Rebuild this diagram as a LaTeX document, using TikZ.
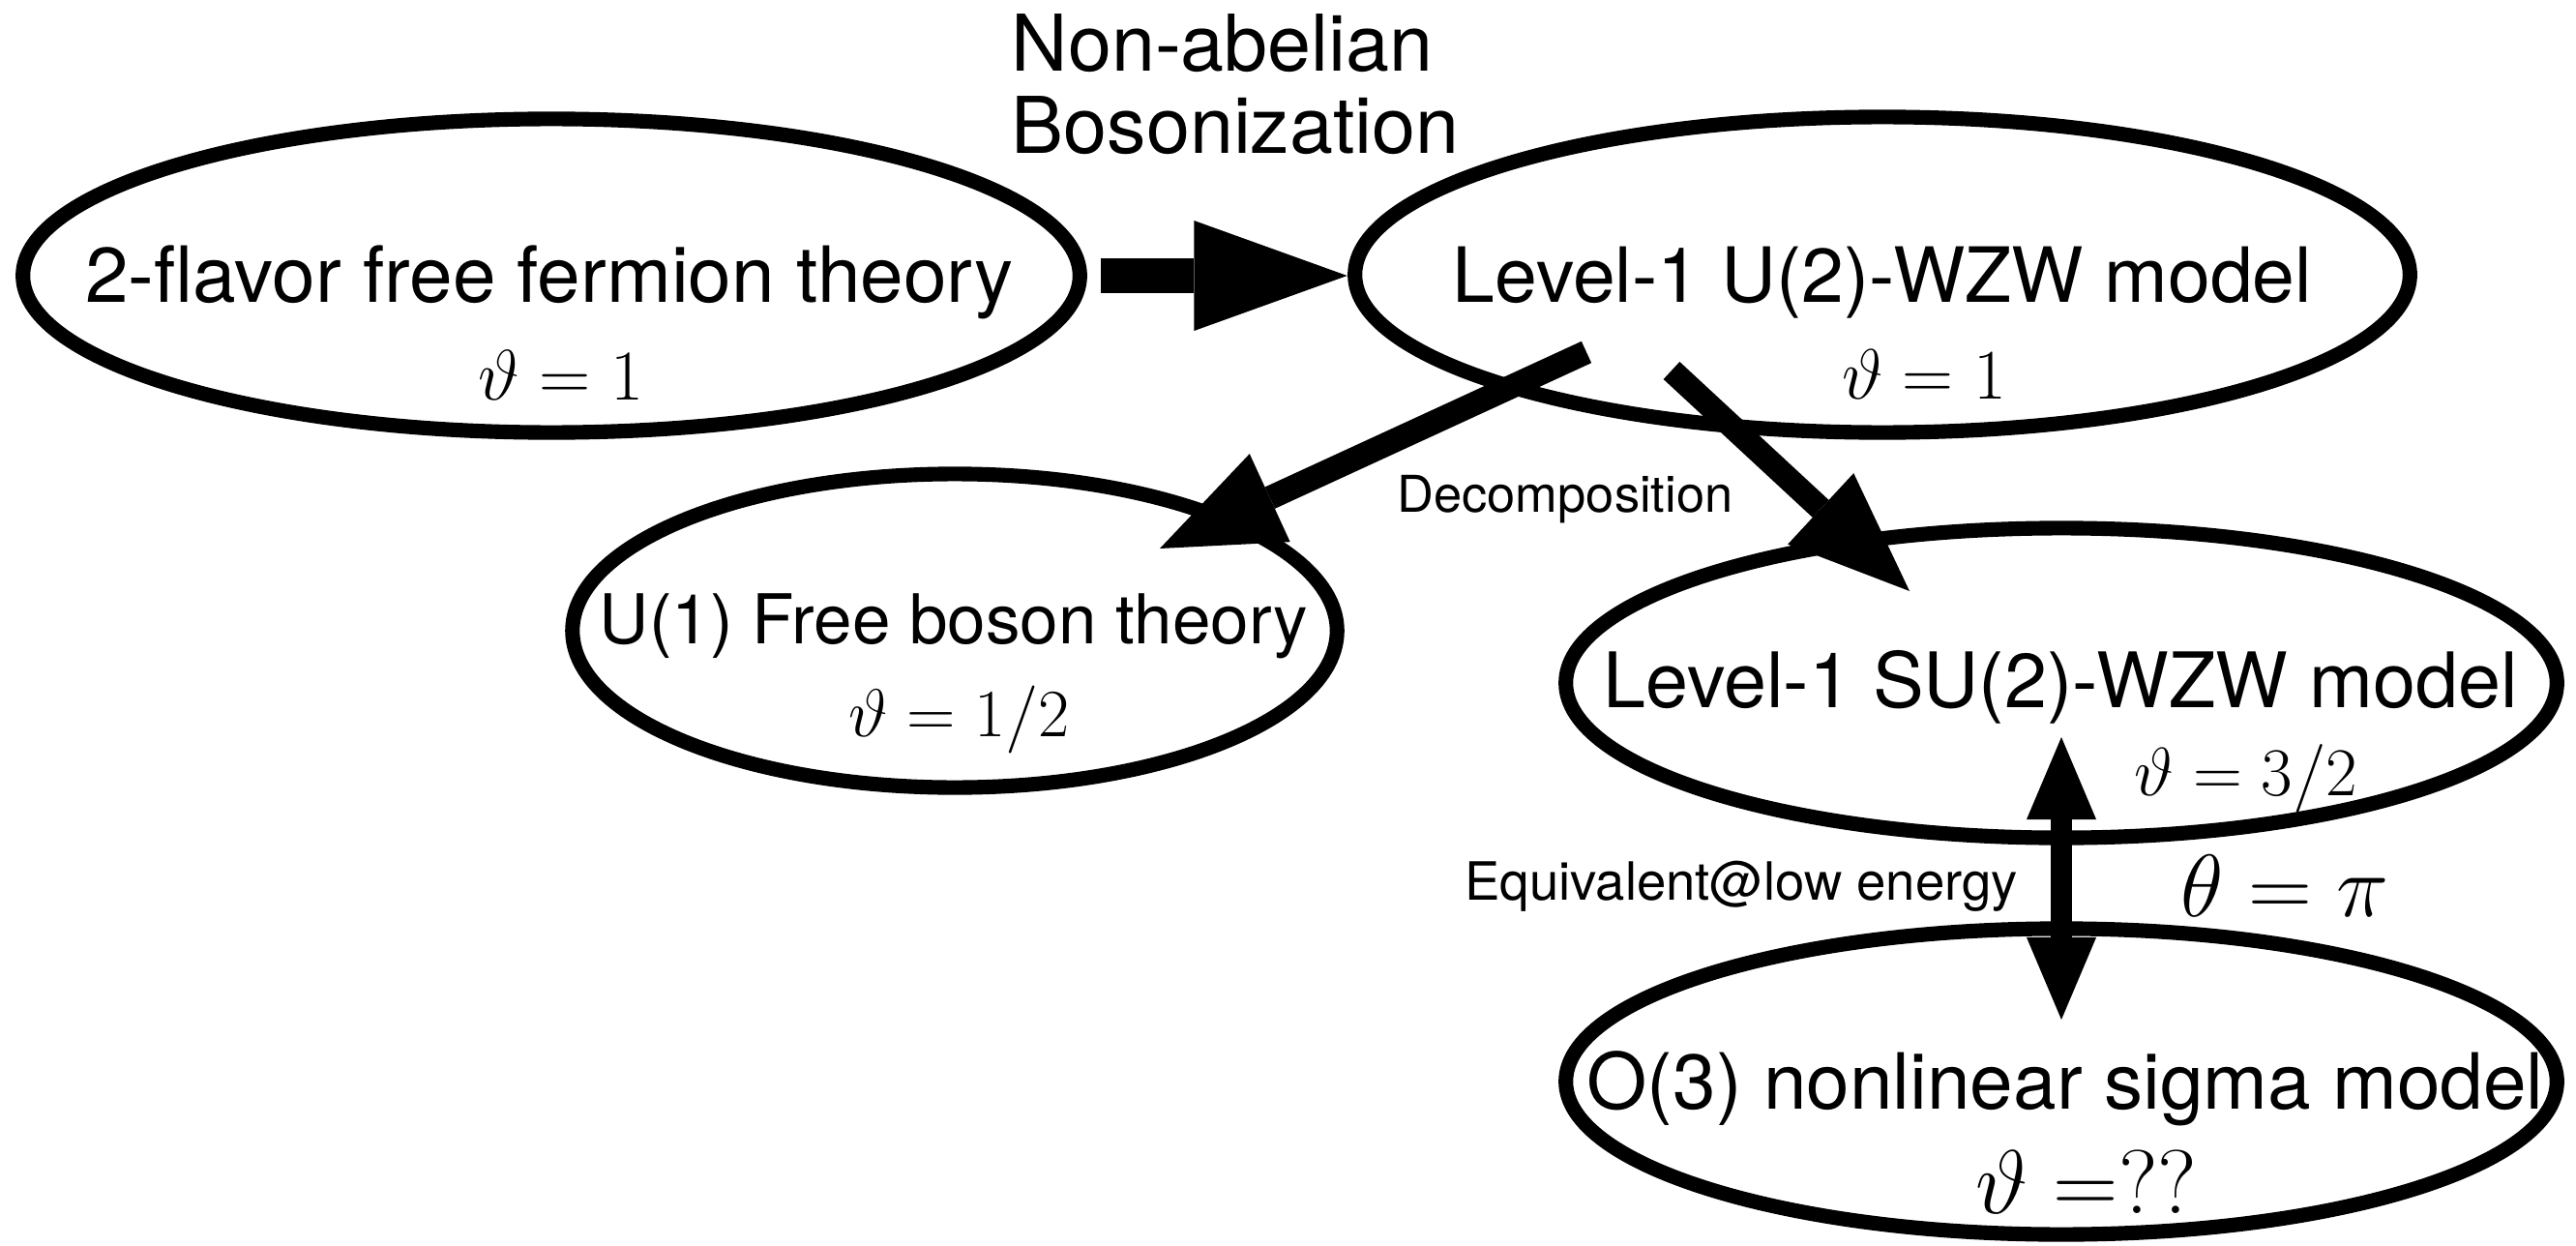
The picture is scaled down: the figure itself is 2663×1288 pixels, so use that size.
\RequirePackage{fix-cm}
\documentclass[tikz,border=0pt]{standalone}
\usepackage{amsmath}
\usepackage[no-math]{fontspec}
\usepackage{tikz}
\usetikzlibrary{shapes}
\usetikzlibrary{arrows.meta}
\usetikzlibrary{calc}
\usetikzlibrary{positioning}

\newfontfamily\helv{TeX Gyre Heros}

\begin{document}
\begin{tikzpicture}[x=0.01cm, y=-0.01cm,
    theory/.style={draw, ellipse, line width=4.3pt, inner sep=0pt, outer sep=0pt},
    thname/.style={font=\helv\fontsize{#1}{#1}\selectfont, inner sep=0pt, anchor=base},
    thval/.style={font=\fontsize{#1}{#1}\selectfont, inner sep=0pt, anchor=base},
    bigarrow/.style={line width=10.2pt, -{Triangle[length=45pt, width=32.4pt, line width=0pt]}},
    midarrow/.style={line width=7pt, -{Triangle[length=35.6pt, width=28.5pt, line width=0pt]}},
    twoarrow/.style={line width=6.5pt, {Triangle[length=24.2pt, width=20.5pt, line width=0pt]}-{Triangle[length=24.2pt, width=20.5pt, line width=0pt]}}]
  \useasboundingbox (0,0) rectangle (2663,1288);

  \node[theory, minimum width=10.92cm, minimum height=3.24cm] (fermion) at (570,285) {};
  \node[theory, minimum width=10.90cm, minimum height=3.26cm] (u2) at (1946,284) {};
  \node[theory, minimum width=7.90cm, minimum height=3.24cm] (u1) at (987,652) {};
  \node[theory, minimum width=10.24cm, minimum height=3.20cm] (su2) at (2131,706) {};
  \node[theory, minimum width=10.24cm, minimum height=3.16cm] (o3) at (2131,1118) {};

  \node[thname=22.8] (fermion text) at (568,313) {2-flavor free fermion theory};
  \node[thval=21] (fermion val) at (580,413) {$\vartheta = 1$};
  \node[thname=22.4] (u2 text) at (1946,313) {Level-1 U(2)-WZW model};
  \node[thval=20.9] (u2 val) at (1989,412) {$\vartheta = 1$};
  \node[thname=20.2] (u1 text) at (986,665) {U(1) Free boson theory};
  \node[thval=19.9] (u1 val) at (992,761) {$\vartheta = 1/2$};
  \node[thname=22.5] (su2 text) at (2130,731) {Level-1 SU(2)-WZW model};
  \node[thval=20.1] (su2 val) at (2322,822) {$\vartheta = 3/2$};
  \node[thname=22.8] (o3 text) at (2135,1146) {O(3) nonlinear sigma model};
  \node[thval=26.6] (o3 val) at (2157,1254) {$\vartheta =??$};

  \node[font=\helv\fontsize{23}{24.2}\selectfont, align=left, inner sep=0pt, anchor=base west] (bos label) at (1045,159) {Non-abelian\\Bosonization};
  \node[thname=14.9] (dec label) at (1618,529) {Decomposition};
  \node[thname=15.5] (eq label) at (1800,930) {Equivalent@low energy};
  \node[thval=26] (theta label) at (2362,947) {$\theta = \pi$};

  \draw[bigarrow] ($(fermion.east)+(22,0)$) -- ($(fermion.east -| u2.west)+(-8,0)$);
  \draw[midarrow] ($(u2)+(-306,80)$) -- ($(u1)+(212,-85)$);
  \draw[midarrow] ($(u2)+(-218,99)$) -- ($(su2)+(-157,-95)$);
  \draw[twoarrow] ($(su2)+(0,56)$) -- ($(o3)+(0,-64)$);
\end{tikzpicture}
\end{document}
